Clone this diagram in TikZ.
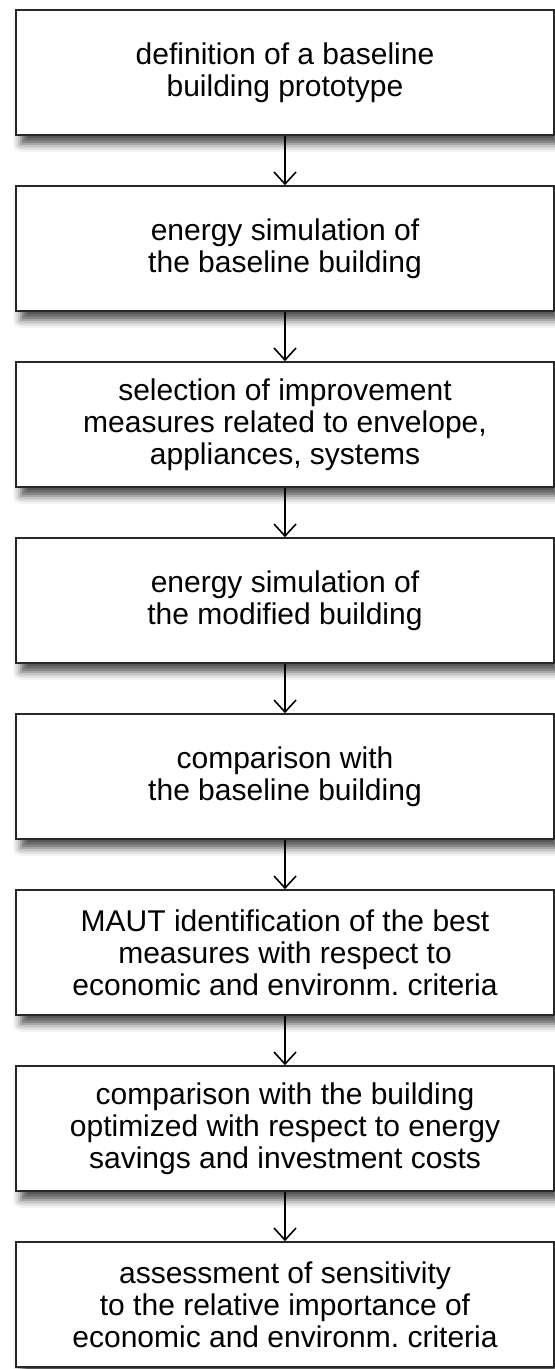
\documentclass[tikz,border=0pt]{standalone}
\usepackage{fontspec}
\setmainfont{Liberation Sans}
\usetikzlibrary{arrows.meta,shadows.blur}
\frenchspacing

\begin{document}
\begin{tikzpicture}[node distance=88pt, every node/.style={font=\fontsize{15pt}{16pt}\selectfont},
    stepbox/.style={draw=black!85, line width=0.8pt, rectangle, fill=white,
        minimum width=269pt, minimum height=62.5pt, align=center,
        blur shadow={shadow xshift=2.5pt, shadow yshift=-4.5pt, shadow blur radius=4pt, shadow opacity=70},
        execute at begin node={\rule{0pt}{16pt}}},
    flow/.style={-{Straight Barb[length=6pt,width=11pt]}, line width=0.8pt}]
    \useasboundingbox (0,0) rectangle (277.5pt,-684.5pt);

    % Step nodes
    \node[stepbox] (proto) at (142.5pt,-36.25pt) {definition of a baseline\\building prototype};
    \node[stepbox, below of=proto] (simbase) {energy simulation of\\the baseline building};
    \node[stepbox, below of=simbase] (select) {selection of improvement\\measures related to envelope,\\appliances, systems};
    \node[stepbox, below of=select] (simmod) {energy simulation of\\the modified building};
    \node[stepbox, below of=simmod] (compbase) {comparison with\\the baseline building};
    \node[stepbox, below of=compbase] (maut) {MAUT identification of the best\\measures with respect to\\economic and environm. criteria};
    \node[stepbox, below of=maut] (compopt) {comparison with the building\\optimized with respect to energy\\savings and investment costs};
    \node[stepbox, below of=compopt] (sens) {assessment of sensitivity\\to the relative importance of\\economic and environm. criteria};

    % Edges
    \draw[flow] (proto) -- (simbase);
    \draw[flow] (simbase) -- (select);
    \draw[flow] (select) -- (simmod);
    \draw[flow] (simmod) -- (compbase);
    \draw[flow] (compbase) -- (maut);
    \draw[flow] (maut) -- (compopt);
    \draw[flow] (compopt) -- (sens);
\end{tikzpicture}
\end{document}
